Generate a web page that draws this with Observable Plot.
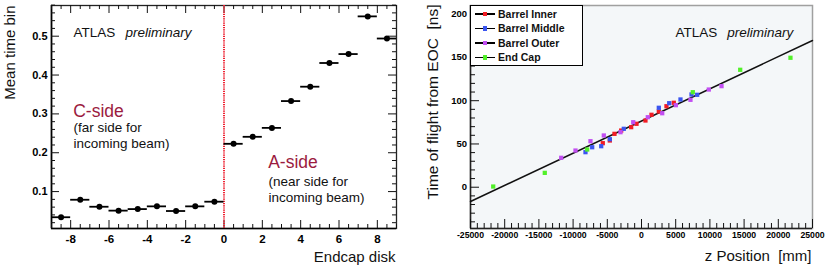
<!DOCTYPE html>
<html>
<head>
<meta charset="utf-8">
<script src="https://cdn.jsdelivr.net/npm/d3@7"></script>
<script src="https://cdn.jsdelivr.net/npm/@observablehq/plot@0.6"></script>
<style>
  body { margin: 0; background: #fff; font-family: "Liberation Sans", Arial, sans-serif; }
  #wrap { position: relative; width: 830px; height: 268px; display: flex; }
  #left { width: 410px; height: 268px; position: relative; }
  #right { width: 420px; height: 268px; position: relative; }
  svg { display: block; }
  .legend { position: absolute; left: 60px; top: 5px; width: 113px; height: 60.5px; box-sizing: border-box;
            border: 1.5px solid #000; background: #fff; }
  .legend .row { position: absolute; left: 0; height: 14.5px; width: 100%; }
  .legend .ln { position: absolute; left: 3.5px; width: 20px; top: 6.5px; height: 1.5px; background: #000; }
  .legend .mk { position: absolute; left: 11.5px; top: 5px; width: 4.5px; height: 4.5px; }
  .legend .tx { position: absolute; left: 27px; top: 0; line-height: 14.5px; font-size: 10.5px; font-weight: bold; color: #111; white-space: nowrap; }
</style>
</head>
<body>
<div id="wrap">
  <div id="left"></div>
  <div id="right"></div>
</div>
<script>
// ---------------- Left panel data ----------------
const diskCenters = [-8.5, -7.5, -6.5, -5.5, -4.5, -3.5, -2.5, -1.5, -0.5, 0.5, 1.5, 2.5, 3.5, 4.5, 5.5, 6.5, 7.5, 8.5];
const meanTimeBin = [0.034, 0.079, 0.061, 0.051, 0.055, 0.062, 0.050, 0.062, 0.074,
                     0.223, 0.241, 0.264, 0.333, 0.370, 0.431, 0.454, 0.551, 0.494];
const diskHalfWidth = 0.5;
const sideBoundary = [0];
const leftXDomain = [-9, 9];
const leftYDomain = [0.005, 0.579];
const leftXTicks = [-8, -6, -4, -2, 0, 2, 4, 6, 8];
const leftYTicks = [0.1, 0.2, 0.3, 0.4, 0.5];

// ---------------- Right panel data ----------------
const seriesNames = ["Barrel Inner", "Barrel Middle", "Barrel Outer", "End Cap"];
const seriesColors = ["#f21c24", "#3a55f0", "#c24ff2", "#52f02a"];
const innerZ = [-5660, -4630, -3950, -2970, -1510, -730, 580, 1460, 2530, 3650, 4720];
const innerT = [50.9, 54.0, 61.7, 65.5, 69.4, 73.3, 77.1, 83.7, 87.5, 93.6, 97.6];
const middleZ = [-8190, -7210, -5890, -4630, -2590, 2530, 4050, 5700, 7310, 8140];
const middleT = [40.5, 46.2, 47.4, 55.5, 67.5, 91.8, 97.1, 101.4, 107.2, 106.8];
const outerZ = [-11740, -9650, -7460, -5510, -3070, -1210, 920, 3030, 5020, 7160, 9840, 11700];
const outerT = [34.0, 42.4, 53.2, 59.8, 63.6, 75.1, 80.9, 85.5, 94.8, 101.0, 112.9, 116.8];
const endcapZ = [-21680, -14140, -7940, 7500, 14430, 21780];
const endcapT = [0.8, 16.6, 43.6, 109.8, 135.7, 149.6];
const fitZ = [-25000, 25000];
const fitT = [-16.5, 169.6];
const rightXDomain = [-25000, 25000];
const rightYDomain = [-47.7, 210];
const rightXTicks = [-25000, -20000, -15000, -10000, -5000, 0, 5000, 10000, 15000, 20000, 25000];
const rightYTicks = [0, 50, 100, 150, 200];

const font = '"Liberation Sans", Arial, sans-serif';

// ---------------- Left plot ----------------
{
  const W = 410, H = 268, m = {top: 5, right: 14, bottom: 40, left: 51};
  const fw = W - m.left - m.right, fh = H - m.top - m.bottom;
  const rows = diskCenters.map((d, i) => ({disk: d, t: meanTimeBin[i]}));
  const minorX = d3.range(-9, 9.001, 0.5).filter(v => !leftXTicks.includes(v));
  const minorY = d3.range(0.02, 0.5801, 0.02).map(v => +v.toFixed(2)).filter(v => !leftYTicks.some(t => Math.abs(t - v) < 1e-9));
  const tk = {stroke: "#111", strokeWidth: 1};
  const plot = Plot.plot({
    width: W, height: H,
    marginTop: m.top, marginRight: m.right, marginBottom: m.bottom, marginLeft: m.left,
    style: {fontFamily: font, fontSize: "11px", background: "transparent", overflow: "visible"},
    x: {domain: leftXDomain, axis: null},
    y: {domain: leftYDomain, axis: null},
    marks: [
      Plot.frame({stroke: "#222", strokeWidth: 1.3}),
      Plot.ruleX([leftXDomain[0]], {x: d => d, stroke: "#000", strokeWidth: 1.6}),
      Plot.ruleY([leftYDomain[0]], {y: d => d, stroke: "#000", strokeWidth: 1.6}),
      Plot.tickX(leftXTicks, {x: d => d, insetTop: fh - 8, ...tk}),
      Plot.tickX(leftXTicks, {x: d => d, insetBottom: fh - 8, ...tk}),
      Plot.tickX(minorX, {x: d => d, insetTop: fh - 4, ...tk}),
      Plot.tickX(minorX, {x: d => d, insetBottom: fh - 4, ...tk}),
      Plot.tickY(leftYTicks, {y: d => d, insetRight: fw - 8, ...tk}),
      Plot.tickY(leftYTicks, {y: d => d, insetLeft: fw - 8, ...tk}),
      Plot.tickY(minorY, {y: d => d, insetRight: fw - 4, ...tk}),
      Plot.tickY(minorY, {y: d => d, insetLeft: fw - 4, ...tk}),
      Plot.axisX(leftXTicks, {anchor: "bottom", tickSize: 0, tickPadding: 6, fontWeight: "bold", fontSize: 11.5, tickFormat: d => String(d), label: null}),
      Plot.axisY(leftYTicks, {anchor: "left", tickSize: 0, tickPadding: 4, fontWeight: "bold", fontSize: 11, tickFormat: d => String(d), label: null}),
      Plot.ruleX(sideBoundary, {x: d => d, stroke: "#ee2030", strokeWidth: 2, strokeDasharray: "1.2,1"}),
      Plot.ruleY(rows, {y: "t", x1: d => d.disk - diskHalfWidth, x2: d => d.disk + diskHalfWidth, stroke: "#000", strokeWidth: 1.8}),
      Plot.dot(rows, {x: "disk", y: "t", r: 3, fill: "#000", stroke: "none"}),
      Plot.text(["ATLAS"], {text: d => d, frameAnchor: "top-left", dx: 22, dy: 27, textAnchor: "start", lineAnchor: "middle", fontSize: 13.5, fill: "#111"}),
      Plot.text(["preliminary"], {text: d => d, frameAnchor: "top-left", dx: 74, dy: 27, textAnchor: "start", lineAnchor: "middle", fontSize: 13.5, fontStyle: "italic", fill: "#111"}),
      Plot.text(["C-side"], {text: d => d, frameAnchor: "top-left", dx: 21.7, dy: 105.5, textAnchor: "start", lineAnchor: "middle", fontSize: 17.5, fill: "#9b1b40"}),
      Plot.text(["(far side for"], {text: d => d, frameAnchor: "top-left", dx: 22, dy: 122.5, textAnchor: "start", lineAnchor: "middle", fontSize: 13.5, fill: "#111"}),
      Plot.text(["incoming beam)"], {text: d => d, frameAnchor: "top-left", dx: 22, dy: 138.5, textAnchor: "start", lineAnchor: "middle", fontSize: 13.5, fill: "#111"}),
      Plot.text(["A-side"], {text: d => d, frameAnchor: "top-left", dx: 216.7, dy: 157, textAnchor: "start", lineAnchor: "middle", fontSize: 17.5, fill: "#9b1b40"}),
      Plot.text(["(near side for"], {text: d => d, frameAnchor: "top-left", dx: 217, dy: 176.5, textAnchor: "start", lineAnchor: "middle", fontSize: 13.5, fill: "#111"}),
      Plot.text(["incoming beam)"], {text: d => d, frameAnchor: "top-left", dx: 217, dy: 192.5, textAnchor: "start", lineAnchor: "middle", fontSize: 13.5, fill: "#111"}),
      Plot.text(["Mean time bin"], {text: d => d, frameAnchor: "top-left", dx: -41, dy: 0, rotate: -90, textAnchor: "end", lineAnchor: "middle", fontSize: 15, fill: "#111"}),
      Plot.text(["Endcap disk"], {text: d => d, frameAnchor: "bottom-right", dx: -1, dy: 28.2, textAnchor: "end", lineAnchor: "middle", fontSize: 15, fill: "#111"})
    ]
  });
  document.getElementById("left").appendChild(plot);
}

// ---------------- Right plot ----------------
{
  const W = 420, H = 268, m = {top: 5, right: 18, bottom: 40, left: 60};
  const fw = W - m.left - m.right, fh = H - m.top - m.bottom;
  const mk = (zs, ts, s) => zs.map((z, i) => ({z, t: ts[i], s}));
  const rows = [
    ...mk(innerZ, innerT, seriesNames[0]),
    ...mk(middleZ, middleT, seriesNames[1]),
    ...mk(outerZ, outerT, seriesNames[2]),
    ...mk(endcapZ, endcapT, seriesNames[3])
  ];
  const fit = fitZ.map((z, i) => ({z, t: fitT[i]}));
  const minorX = d3.range(-25000, 25001, 1000).filter(v => !rightXTicks.includes(v));
  const minorY = d3.range(-40, 211, 10).filter(v => !rightYTicks.includes(v));
  const tk = {stroke: "#111", strokeWidth: 1};
  const plot = Plot.plot({
    width: W, height: H,
    marginTop: m.top, marginRight: m.right, marginBottom: m.bottom, marginLeft: m.left,
    style: {fontFamily: font, fontSize: "10px", background: "transparent", overflow: "visible"},
    x: {domain: rightXDomain, axis: null},
    y: {domain: rightYDomain, axis: null},
    color: {domain: seriesNames, range: seriesColors},
    marks: [
      Plot.frame({fill: "#f4f7f9", stroke: "#a0a0a0", strokeWidth: 1.5}),
      Plot.ruleX([rightXDomain[0]], {x: d => d, stroke: "#222", strokeWidth: 1.5}),
      Plot.ruleY([rightYDomain[0]], {y: d => d, stroke: "#222", strokeWidth: 1.5}),
      Plot.tickX(rightXTicks, {x: d => d, insetTop: fh - 9, ...tk}),
      Plot.tickX(minorX, {x: d => d, insetTop: fh - 5, ...tk}),
      Plot.tickY(rightYTicks, {y: d => d, insetRight: fw - 9, ...tk}),
      Plot.tickY(minorY, {y: d => d, insetRight: fw - 5, ...tk}),
      Plot.axisX(rightXTicks, {anchor: "bottom", tickSize: 0, tickPadding: 3, fontWeight: "bold", fontSize: 8.7, tickFormat: d => String(d), label: null}),
      Plot.axisY(rightYTicks, {anchor: "left", tickSize: 0, tickPadding: 3.5, fontWeight: "bold", fontSize: 9.5, tickFormat: d => String(d), label: null}),
      Plot.line(fit, {x: "z", y: "t", stroke: "#111", strokeWidth: 1.5}),
      Plot.dot(rows, {x: "z", y: "t", fill: "s", symbol: "square", r: 2.4, stroke: "none"}),
      Plot.text(["ATLAS"], {text: d => d, frameAnchor: "top-left", dx: 205, dy: 27, textAnchor: "start", lineAnchor: "middle", fontSize: 13.5, fill: "#111"}),
      Plot.text(["preliminary"], {text: d => d, frameAnchor: "top-left", dx: 256.7, dy: 27, textAnchor: "start", lineAnchor: "middle", fontSize: 13.5, fontStyle: "italic", fill: "#111"}),
      Plot.text(["Time of flight from EOC\u00a0 [ns]"], {text: d => d, frameAnchor: "top-left", dx: -37, dy: -1, rotate: -90, textAnchor: "end", lineAnchor: "middle", fontSize: 15.5, fill: "#111"}),
      Plot.text(["z Position\u00a0 [mm]"], {text: d => d, frameAnchor: "bottom-right", dx: -1, dy: 27.5, textAnchor: "end", lineAnchor: "middle", fontSize: 15, fill: "#111"})
    ]
  });
  const host = document.getElementById("right");
  host.appendChild(plot);
  const lg = document.createElement("div");
  lg.className = "legend";
  seriesNames.forEach((name, i) => {
    const row = document.createElement("div");
    row.className = "row";
    row.style.top = (0.5 + i * 14.5) + "px";
    row.innerHTML = `<div class="ln"></div><div class="mk" style="background:${seriesColors[i]}"></div><div class="tx">${name}</div>`;
    lg.appendChild(row);
  });
  host.appendChild(lg);
}
</script>
</body>
</html>
